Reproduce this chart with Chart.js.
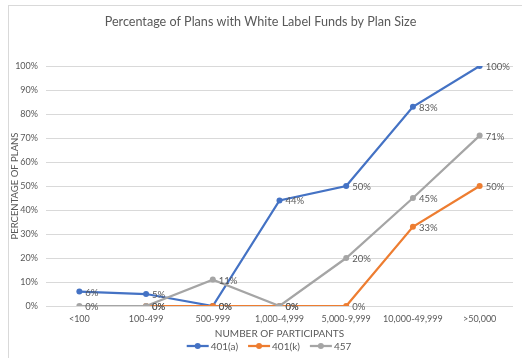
<!DOCTYPE html>
<html>
<head>
<meta charset="utf-8">
<script src="https://cdn.jsdelivr.net/npm/chart.js@4/dist/chart.umd.min.js"></script>
<style>
  html, body { margin: 0; padding: 0; background: #fff; overflow: hidden; }
  #wrap { position: relative; width: 522px; height: 358px; }
  #frame { position: absolute; left: 8px; top: 5px; width: 600px; height: 400px;
           border-left: 1px solid #d9d9d9; border-top: 1px solid #d9d9d9; }
  canvas { position: absolute; left: 0; top: 0; }
</style>
</head>
<body>
<div id="wrap">
  <div id="frame"></div>
  <canvas id="c" width="522" height="358"></canvas>
</div>
<script>
const categories = ['<100', '100-499', '500-999', '1,000-4,999', '5,000-9,999', '10,000-49,999', '>50,000'];
const series401a = [6, 5, 0, 44, 50, 83, 100];
const series401k = [null, 0, 0, 0, 0, 33, 50];
const series457 = [0, 0, 11, 0, 20, 45, 71];
const yTicks = [0, 10, 20, 30, 40, 50, 60, 70, 80, 90, 100];

const FONT = 'Lato, "Liberation Sans", sans-serif';
const TEXT = '#595959';

const labelPlugin = {
  id: 'pointLabels',
  afterDatasetsDraw(chart) {
    const ctx = chart.ctx;
    ctx.save();
    ctx.font = '9.5px ' + FONT;
    ctx.fillStyle = TEXT;
    ctx.textAlign = 'left';
    ctx.textBaseline = 'middle';
    chart.data.datasets.forEach((ds, i) => {
      const meta = chart.getDatasetMeta(i);
      meta.data.forEach((pt, j) => {
        const v = ds.data[j];
        if (v === null || v === undefined) return;
        ctx.fillText(v + '%', pt.x + 6, pt.y + 1);
      });
    });
    ctx.restore();
  }
};

const legendPlugin = {
  id: 'customLegend',
  afterDraw(chart) {
    const ctx = chart.ctx;
    ctx.save();
    ctx.font = '10px ' + FONT;
    ctx.textBaseline = 'middle';
    const y = 346;
    const lineLen = 22, gap = 2, itemGap = 10;
    const items = chart.data.datasets.map(ds => ({ text: ds.label, color: ds.borderColor }));
    let total = 0;
    items.forEach((it, k) => { it.w = lineLen + gap + ctx.measureText(it.text).width; total += it.w + (k ? itemGap : 0); });
    let x = 269 - total / 2;
    items.forEach(it => {
      ctx.strokeStyle = it.color;
      ctx.lineWidth = 2.25;
      ctx.beginPath(); ctx.moveTo(x, y); ctx.lineTo(x + lineLen, y); ctx.stroke();
      ctx.fillStyle = it.color;
      ctx.beginPath(); ctx.arc(x + lineLen / 2, y, 3, 0, Math.PI * 2); ctx.fill();
      ctx.fillStyle = TEXT;
      ctx.textAlign = 'left';
      ctx.fillText(it.text, x + lineLen + gap, y + 1);
      x += it.w + itemGap;
    });
    ctx.restore();
  }
};

function ds(label, data, color, order) {
  return {
    label, data, borderColor: color, backgroundColor: color,
    borderWidth: 2.25, pointRadius: 3, pointHoverRadius: 3,
    pointBackgroundColor: color, pointBorderColor: color, pointBorderWidth: 0,
    tension: 0, spanGaps: false, order
  };
}

new Chart(document.getElementById('c'), {
  type: 'line',
  data: {
    labels: categories,
    datasets: [
      ds('401(a)', series401a, '#4472C4', 2),
      ds('401(k)', series401k, '#ED7D31', 1),
      ds('457', series457, '#A5A5A5', 0)
    ]
  },
  options: {
    responsive: false,
    animation: false,
    events: [],
    layout: { padding: { left: 8, right: 9, top: 0, bottom: 18 } },
    plugins: {
      legend: { display: false },
      tooltip: { enabled: false },
      title: {
        display: true,
        text: 'Percentage of Plans with White Label Funds by Plan Size',
        color: TEXT,
        font: { family: FONT, size: 12.6, weight: 'normal' },
        padding: { top: 14, bottom: 36.9 }
      }
    },
    scales: {
      x: {
        offset: true,
        grid: { display: false, drawTicks: false },
        border: { display: false },
        ticks: { color: TEXT, font: { family: FONT, size: 9 }, padding: 8, maxRotation: 0, autoSkip: false },
        title: { display: true, text: 'NUMBER OF PARTICIPANTS', color: TEXT, font: { family: FONT, size: 10 }, padding: { top: 2, bottom: 0 } },
        afterFit(s) { s.height = 34; }
      },
      y: {
        min: 0, max: 100,
        afterBuildTicks(s) { s.ticks = yTicks.map(v => ({ value: v })); },
        grid: { color: '#D9D9D9', lineWidth: 1, drawTicks: false },
        border: { display: false },
        ticks: { color: TEXT, font: { family: FONT, size: 9 }, padding: 8, callback: v => v + '%' },
        title: { display: true, text: 'PERCENTAGE OF PLANS', color: TEXT, font: { family: FONT, size: 9.5 }, padding: { top: 1, bottom: 4 } },
        afterFit(s) { s.width = 38; }
      }
    }
  },
  plugins: [labelPlugin, legendPlugin]
});
</script>
</body>
</html>
